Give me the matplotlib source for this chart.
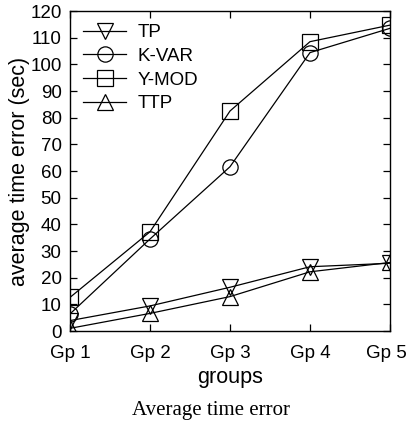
import matplotlib.pyplot as plt
import matplotlib.transforms as mtransforms
import numpy as np

groups = ["Gp 1", "Gp 2", "Gp 3", "Gp 4", "Gp 5"]
tp = [3.9, 9.4, 16.4, 24.1, 25.4]
kvar = [6.4, 34.5, 61.6, 104.4, 113.5]
ymod = [12.6, 37.2, 82.5, 108.5, 114.7]
ttp = [1.0, 6.6, 12.9, 22.2, 25.7]

plt.rcParams['font.family'] = ['Liberation Sans', 'DejaVu Sans']

fig = plt.figure(figsize=(4.07, 4.32), dpi=100)
ax = fig.add_axes([70 / 407, 1 - 331 / 432, 320 / 407, 320 / 432])

x = np.arange(len(groups))
style = dict(color='black', linewidth=0.9, markersize=11,
             markerfacecolor='none', markeredgewidth=0.9)
ax.plot(x, tp, marker='v', label='TP', **style)
ax.plot(x, kvar, marker='o', label='K-VAR', **style)
ax.plot(x, ymod, marker='s', label='Y-MOD', **style)
ax.plot(x, ttp, marker='^', label='TTP', **style)

ax.set_xlim(0, 4)
ax.set_ylim(0, 120)
ax.set_xticks(x)
ax.set_xticklabels(groups, fontsize=13.5)
ax.set_yticks(np.arange(0, 121, 10))
ax.tick_params(axis='y', labelsize=13.5, pad=6)
ax.tick_params(axis='x', pad=10)
ax.tick_params(direction='in', top=True, right=True, length=5, width=0.9)
for s in ax.spines.values():
    s.set_linewidth(1.0)

# keep the last group label inside the picture
last = ax.get_xticklabels()[-1]
last.set_transform(last.get_transform() +
                   mtransforms.ScaledTranslation(-4 / 100, 0, fig.dpi_scale_trans))

ax.set_xlabel("groups", fontsize=15.5, labelpad=4)
ax.set_ylabel("average time error (sec)", fontsize=15.5, labelpad=0)

ax.legend(loc='upper left', frameon=False, fontsize=13.5, handlelength=2.3,
          borderaxespad=0.3, borderpad=0.4, labelspacing=0.35,
          handletextpad=0.6)

fig.text(211 / 407, 1 - 410 / 432, "Average time error", ha='center',
         va='center', fontsize=15, family='Liberation Serif')

plt.savefig("out.png", dpi=100)
